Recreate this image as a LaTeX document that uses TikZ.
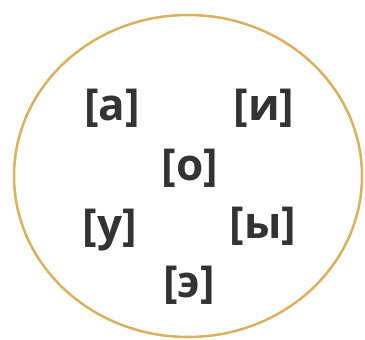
\documentclass[tikz,border=0pt]{standalone}
\usepackage{fontspec}
\setmainfont{Open Sans}
\definecolor{ring}{HTML}{D8B25E}
\definecolor{ink}{HTML}{333333}
\begin{document}
\begin{tikzpicture}[x=1pt,y=1pt,
  snd/.style={font=\fontsize{44}{44}\selectfont\bfseries, text=ink, inner sep=0pt,
    text height=0.714em, text depth=0.158em, anchor=center}]
\useasboundingbox (0,0) rectangle (365,340);
\draw[ring, line width=2.5pt] (188,164) ellipse [x radius=174, y radius=161];
\node[snd] (a) at (112,222) {[а]};
\node[snd] (i) at (264,222) {[и]};
\node[snd] (o) at (190,162) {[о]};
\node[snd] (u) at (110,102) {[у]};
\node[snd] (y) at (263,104) {[ы]};
\node[snd] (e) at (189,45) {[э]};
\end{tikzpicture}
\end{document}
